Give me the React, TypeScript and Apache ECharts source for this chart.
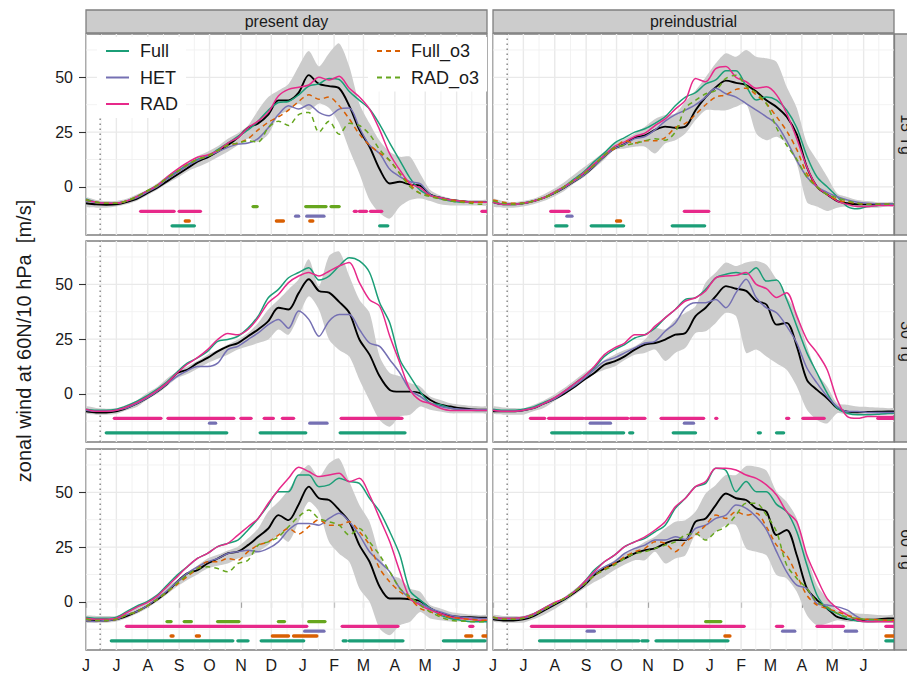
import { useEffect, useRef } from 'react';
import * as echarts from 'echarts';

const FONT = '"Liberation Sans", Arial, Helvetica, sans-serif';

// x positions: days after 1 June 1991
const DAYS = [0, 10, 20, 30, 40, 50, 60, 70, 80, 90, 100, 110, 120, 130, 140, 150, 160, 170, 180, 190, 200, 210, 220, 230, 240, 250, 260, 270, 280, 290, 300, 310, 320, 330, 340, 350, 360, 370, 380, 390, 396];
const MONTH_TICKS = [0, 30, 61, 92, 122, 153, 183, 214, 245, 274, 305, 335, 366];
const MONTH_LABELS = ['J', 'J', 'A', 'S', 'O', 'N', 'D', 'J', 'F', 'M', 'A', 'M', 'J'];
const MINOR_X = [15, 45.5, 76.5, 107, 137.5, 168, 198.5, 229.5, 259.5, 289.5, 320, 350.5, 381];
const Y_TICKS = [0, 25, 50];
const Y_MINOR = [-12.5, 12.5, 37.5, 62.5];
const ERUPTION_DAY = 14;
const COLUMNS = ['present day', 'preindustrial'];
const ROWS = ['15 Tg', '30 Tg', '60 Tg'];
const NAMES = ['Full', 'HET', 'RAD', 'Full_o3', 'RAD_o3'];
const SIG_LEVELS = { RAD_o3: -9, RAD: -11.2, HET: -13.4, Full_o3: -15.6, Full: -17.8 };

// ---- present day, 15 Tg ----
const P1_MEAN = [-7.5, -8, -8.2, -8, -7, -5.5, -3, -0.5, 2.5, 5.5, 8.5, 11.5, 13.5, 16, 19, 22.5, 27, 29, 33, 39.5, 39.5, 43, 51, 47, 46, 45, 37, 26, 18.3, 8, 1.5, 2.3, 1, 0.5, -3.5, -5, -6, -6.5, -7, -7, -7];
const P1_LO = [-9, -9.5, -9.5, -9, -8, -6.5, -4, -1.5, 1.5, 4, 7, 9, 11, 13.5, 16, 19, 22, 20.5, 24, 32.5, 35, 38, 35, 38, 36, 29, 17, 6, -6, -12, -14.5, -9, -6, -5.3, -6.5, -8, -8.5, -8.5, -8.5, -8.5, -8.5];
const P1_HI = [-5, -6, -6.5, -6.5, -5.5, -3.5, -1.5, 1.5, 5, 8, 11, 14, 16, 18.5, 22, 24.5, 28, 35, 41, 44, 47, 55, 62, 55, 61, 65.5, 55, 38, 29, 21, 16, 13.7, 13.7, 6, -1.5, -4, -5.3, -6, -6, -6, -6];
const P1_FULL = [-5.5, -7, -7.5, -7.5, -6.5, -4.5, -2, 0.5, 4, 7, 10, 12.5, 14, 17, 20, 23, 26, 30, 35, 38.5, 39, 42, 46, 47, 49.5, 49, 43.5, 39.5, 35.5, 28.5, 20, 12, 4, -1.5, -4, -5.5, -6.5, -7, -7, -7, -7];
const P1_HET = [-6.5, -7, -7.5, -7.5, -6.5, -5, -2.5, 0, 3.5, 6.5, 9.5, 12, 14, 16, 18, 19.5, 20, 22, 27, 33, 37, 35.5, 37.5, 34, 32.5, 35.5, 36, 27, 19, 15.2, 8, 4.6, 2.3, 1.5, -3.5, -5, -6, -6.5, -7, -7, -7];
const P1_RAD = [-6, -7, -7.5, -7.5, -6.5, -4.5, -2, 0.5, 4.5, 8, 11, 13.5, 14.5, 16.5, 20, 22.5, 27, 30, 34, 41.5, 44.5, 45.5, 46.5, 50, 48.8, 50.5, 45, 41, 35.5, 26, 15, 7.6, 1.5, -0.5, -4, -5, -6, -6.5, -7, -7, -7];
const P1_FULLO3 = [-6, -7, -7.5, -7.5, -6.5, -4.5, -2, 0.5, 4, 7, 10, 12.5, 14, 16.5, 19, 20, 22, 26, 29.5, 32, 35, 39, 42, 40, 41, 37, 31, 24, 19, 15.5, 12, 6, 1, -3, -4, -5.5, -6, -6.5, -7, -7, -7];
const P1_RADO3 = [-6, -7, -7.5, -7.5, -6.5, -4.5, -2, 0.5, 4, 7, 10, 12.5, 14, 16.5, 19, 20, 21, 20.5, 27, 30, 28, 33, 34, 25, 30, 24, 29, 28, 24, 17, 12, 6, 0, -3, -4.5, -5.5, -6.5, -7, -7.5, -8, -8];
const P1_SIG_RADO3 = [[165, 169], [217, 237], [242, 250]];
const P1_SIG_RAD = [[54, 87], [92, 113], [265, 267], [270, 277], [281, 292], [391, 396]];
const P1_SIG_HET = [[207, 210], [218, 235]];
const P1_SIG_FULLO3 = [[98, 102], [188, 195], [221, 224]];
const P1_SIG_FULL = [[85, 107], [290, 298]];

// ---- preindustrial, 15 Tg ----
const P2_MEAN = [-7, -8, -8, -7.5, -6.5, -5, -3, -0.5, 2.5, 5.5, 9.5, 14, 17.5, 19.5, 22.5, 23.5, 26, 27.5, 27, 27.5, 35, 41, 45.5, 48.5, 47.5, 46.5, 43.5, 39.5, 36.5, 32, 24, 9, 0, -3.5, -6.5, -7.5, -8, -8, -8, -8, -8];
const P2_LO = [-9, -9.5, -9.5, -9, -8, -6.5, -4.5, -2, 1.5, 4.5, 8.5, 12.5, 16.8, 17.5, 18.3, 18.3, 15.2, 19.8, 21.3, 24.4, 30.5, 35, 35, 35, 36.6, 38, 24.4, 21.3, 22.9, 19.8, 10.7, -7, -9, -11, -9.5, -9, -9.5, -9.5, -9.5, -9, -9];
const P2_HI = [-5.5, -6.5, -7, -6.5, -5.5, -3.5, -1, 2, 5.5, 9, 12.5, 16, 19.8, 22, 24.4, 27.4, 31, 32.8, 33.5, 39, 44, 50, 56.4, 61, 59.4, 62.5, 59.4, 58.7, 57, 45.7, 36, 19.8, 12.2, 4.6, -3, -4.6, -6, -6.5, -7, -7, -7];
const P2_FULL = [-6.5, -8, -8, -7.5, -6.5, -5, -2.5, 0, 3.5, 7, 11.5, 15.5, 20, 22.5, 25, 26.5, 29, 32, 37, 41, 43, 47, 48.8, 53, 53, 46, 39.6, 41, 39.6, 35, 27, 14, 4.5, 0, -4.5, -9, -10, -9, -8.5, -8, -8];
const P2_HET = [-7, -8, -8, -7.5, -6.5, -5, -3, -0.5, 2.5, 5.5, 9.5, 14, 17.5, 19.5, 22, 23, 26, 30, 33, 35, 37.5, 41, 45, 42.5, 41, 38, 35, 32, 28.5, 21, 12, 4.5, 0, -2.5, -4.5, -6, -7, -7.5, -7.8, -8, -8];
const P2_RAD = [-7, -8, -8, -7.5, -6.5, -5, -2.5, 0, 3, 6.5, 10.5, 14.5, 18.5, 20.5, 23, 24.5, 28, 31, 35.5, 39.6, 49.5, 48, 54, 55, 50, 48, 45, 45.7, 42, 33.5, 22, 9, 0, -3.5, -6.5, -8, -9, -9, -8.5, -8.5, -8.5];
const P2_FULLO3 = [-6, -7, -7.5, -7.5, -6.5, -5, -3, 0, 3, 6, 10, 14.5, 17.5, 21, 20, 21, 21, 22.5, 27, 29, 33, 37.5, 41, 42, 44.5, 45, 42, 38, 32, 25.5, 17, 6, 0, -3.5, -6, -7, -7.5, -8, -8, -8, -8];
const P2_RADO3 = [-6.5, -7.5, -8, -7.5, -6.5, -5, -3, 0, 3, 6, 10, 14.5, 18, 19, 19.8, 21, 22, 21.3, 25, 36, 39.5, 42.5, 44, 49.5, 51, 46, 43, 38, 27, 19, 12.5, 4.5, 0, -3.5, -5, -6.5, -7.5, -8, -8, -8, -8];
const P2_SIG_RADO3: number[][] = [];
const P2_SIG_RAD = [[57, 75], [189, 213]];
const P2_SIG_HET = [[73, 78]];
const P2_SIG_FULLO3 = [[122, 126]];
const P2_SIG_FULL = [[62, 73], [97, 129], [177, 209]];

// ---- present day, 30 Tg ----
const P3_MEAN = [-8, -8.5, -8.5, -8, -6.5, -4.5, -2, 1, 4.5, 9.5, 11, 14, 16.4, 19.4, 21.7, 23.2, 26.3, 29.4, 33.2, 39.3, 38.5, 46, 52.3, 47, 46.2, 42, 37, 24.8, 17.9, 8, 1.8, 1, 1, 0.3, -2.8, -5, -5.8, -6.6, -7, -7.3, -7.3];
const P3_LO = [-8.9, -9.5, -9.5, -9.2, -7.5, -6, -2.8, 0, 3.5, 7.2, 9, 11.5, 14, 16, 17.9, 20.2, 21.7, 23.2, 24.8, 29.4, 27, 35.5, 44.6, 38.5, 24.8, 20, 17, 6.4, -3, -11.9, -15, -10.4, -9.6, -5.8, -7.3, -8.1, -8.9, -8.9, -8.9, -8.9, -8.9];
const P3_HI = [-5.8, -6.5, -6.8, -6.6, -5, -3, 0.3, 3, 7, 10.2, 12.5, 15, 17.9, 20, 22.5, 24.8, 27.8, 32.4, 38.5, 43, 47.7, 52.3, 61.5, 49.2, 63, 65, 53.8, 43, 37, 17, 9.5, 8, 4.9, 3.4, -1.2, -2.8, -4.3, -5, -5.5, -5.8, -5.8];
const P3_FULL = [-7, -7.5, -7.5, -7, -5.5, -3.5, -1, 2, 5.5, 10, 14, 16.4, 19.4, 24, 24.8, 26.3, 30, 35.5, 43.9, 47.7, 53, 55.4, 57.6, 52, 53.8, 58.4, 62.2, 60.7, 55.4, 41.6, 32.4, 15.6, 8, 1, -4.3, -5, -6.6, -7.3, -7.5, -7.6, -7.6];
const P3_HET = [-7.5, -8, -8, -7.5, -6.5, -4.5, -2, 1, 4.5, 8, 10.5, 12.5, 12.5, 14, 20.2, 21.7, 24.8, 27.8, 31.6, 34, 30, 37.8, 34, 26.3, 33.2, 36.2, 36.2, 29.4, 23.2, 21.7, 15.6, 9.5, 1.8, -1.2, -4.3, -5.8, -6.6, -7, -7.2, -7.3, -7.3];
const P3_RAD = [-7, -8, -8, -7.5, -6, -4, -1.5, 1.5, 5, 9.5, 13.5, 16.5, 20.2, 24.8, 27.5, 27, 29.4, 34.7, 41.6, 45.4, 50.8, 53.8, 55.4, 53.8, 56, 58.4, 60, 50.8, 43, 40, 26.3, 14, 1.8, -3, -4.5, -6.6, -7.6, -7.6, -7.6, -7.6, -7.6];
const P3_SIG_RAD = [[28, 74], [81, 146], [153, 163], [176, 185], [194, 205], [252, 312]];
const P3_SIG_HET = [[122, 128], [221, 238]];
const P3_SIG_FULL = [[20, 139], [172, 217], [251, 315]];

// ---- preindustrial, 30 Tg ----
const P4_MEAN = [-8, -8, -8, -7.5, -6.5, -4.5, -2.5, 0, 3, 6.5, 9.5, 13.3, 14.8, 17.1, 20.2, 22.5, 23.2, 24.8, 27, 27.8, 35.5, 39.3, 44.6, 49.2, 48, 47, 42.4, 40.8, 31.6, 32.4, 21.7, 6.4, 1.8, -2, -6.6, -8.1, -8.4, -8.3, -8.2, -8, -8];
const P4_LO = [-9, -9.5, -9.5, -9.5, -8, -6.5, -3.5, -0.5, 3, 6.4, 9, 11, 12.5, 15.5, 17.9, 18.7, 20.2, 15, 18.7, 21, 27.8, 28.6, 32.4, 37, 35.5, 18.7, 20.2, 17.1, 14, 11, 3.4, -7.3, -11.9, -13.5, -8.9, -9.6, -9.6, -9.6, -9.6, -9.6, -9.6];
const P4_HI = [-5.8, -6.3, -6.5, -6.6, -5, -3, -0.5, 2.5, 6, 9.5, 12.5, 15.5, 17.9, 20, 21.7, 24.8, 30, 29.4, 34, 37, 40, 50.8, 55.4, 60, 58.4, 60, 60.7, 59, 52.3, 44.6, 37, 21.7, 9.5, 3.4, -4.3, -5, -5.8, -6, -6.3, -6.6, -6.6];
const P4_FULL = [-7, -7.5, -7.5, -7, -6, -4, -2, 1, 4.5, 8, 11.8, 17.1, 20.2, 22.5, 25.5, 27, 30, 34.7, 38.5, 43.1, 43.9, 47.7, 53, 54.6, 55.4, 54.6, 57.6, 51.5, 52, 43.1, 30.9, 18.7, 9.5, 0.3, -6.6, -8.9, -9.6, -9.6, -9.3, -9, -8.9];
const P4_HET = [-7.5, -8, -8, -7.5, -6.5, -4.5, -2.5, 0.5, 3.5, 7, 11, 14.8, 16.4, 18.7, 21, 23.2, 24, 28.6, 32.4, 39.3, 41.6, 41.6, 43.1, 39.3, 46.2, 52.3, 43.9, 39.3, 37, 30.9, 23.2, 11.8, 4.9, -1.2, -5.8, -8.1, -8.1, -8.5, -8.5, -8.5, -8.5];
const P4_RAD = [-7.5, -8, -8, -7.5, -6.5, -4.5, -2, 1, 4.5, 8, 12.5, 17.9, 21, 23.2, 27, 27, 30.9, 34.7, 38.5, 42.4, 43.9, 47, 53, 53.8, 54.1, 55.4, 50, 48, 44, 46.2, 35.5, 24.8, 18.7, 11, -2.8, -10.4, -11.2, -10.4, -10.4, -10.4, -10.4];
const P4_SIG_RAD = [[37, 51], [55, 89], [91, 133], [136, 150], [166, 208], [220, 221], [290, 292], [306, 327], [380, 395]];
const P4_SIG_HET = [[96, 116], [189, 198]];
const P4_SIG_FULL = [[58, 87], [89, 129], [135, 138], [178, 200], [262, 264], [280, 287]];

// ---- present day, 60 Tg ----
const P5_MEAN = [-8.5, -8.5, -8.5, -8, -6.5, -4.5, -2, 1, 4.5, 9.1, 13, 14.5, 17.5, 19.8, 22.1, 22.9, 25.9, 29.7, 33.5, 39.6, 37.3, 44.5, 52.6, 47.3, 46.5, 42, 36.6, 25.9, 18.3, 6.9, 1.5, 1.5, 1.2, 0.3, -3, -5.3, -6.4, -6.9, -7, -7.3, -7.3];
const P5_LO = [-9.5, -9.5, -9.5, -9, -7.5, -5.5, -3, 0, 3.5, 7, 10, 12.5, 15.2, 16.5, 17.5, 19.8, 20.6, 22.9, 25.9, 30.5, 27.4, 36.6, 45.7, 41.2, 27.4, 22, 18.3, 6.1, 0, -12.2, -15.2, -10.7, -9.1, -4.6, -7.6, -8.4, -9, -9, -9.1, -9.1, -9.1];
const P5_HI = [-6.5, -6.5, -6.5, -6.5, -4.5, -2, 0.5, 3.5, 7, 10, 13.5, 16.5, 19.8, 21.5, 23.5, 25.2, 29, 33.5, 41.2, 45.7, 51.1, 58, 62.5, 57, 63.3, 65.5, 54.9, 44.2, 36.6, 21.3, 12.2, 10.7, 6.1, 4.6, -1.5, -3, -4.6, -5.3, -5.8, -6.1, -6.1];
const P5_FULL = [-7, -7.5, -7.5, -7, -4.5, -2, 0, 3, 7.6, 12.2, 16, 19.8, 22.1, 25.2, 26.7, 28.2, 32.8, 38.1, 44.2, 50.3, 50.3, 57.9, 57.9, 52.6, 53.4, 56.4, 54.9, 54.1, 47.3, 41.2, 32, 21.3, 5, 0.8, -3, -6.1, -7.6, -8.4, -9.1, -9.1, -9.1];
const P5_HET = [-8.5, -9, -8.5, -8, -6, -4.5, -2, 1.5, 5, 9.1, 13, 16, 18.3, 19.8, 22.1, 22.9, 23.6, 22.9, 24.4, 27.4, 32.8, 35.8, 35.8, 35, 38.1, 40.4, 36.6, 30.5, 22.9, 18.3, 13.7, 6.1, 1.5, -0.8, -3, -4.6, -6.1, -6.9, -7.3, -7.6, -7.6];
const P5_RAD = [-7.5, -8, -8, -7.5, -5, -2.5, -0.5, 2.5, 6.9, 11.4, 16, 19.8, 22.1, 25.2, 26.7, 30.5, 34.3, 38.1, 45, 51.1, 56.4, 61.5, 59.5, 57.2, 57.9, 58.7, 54.9, 56.4, 48.8, 38.1, 27.4, 13.7, 1.5, -1.5, -3.8, -5.3, -6.9, -7.6, -8, -8.4, -8.4];
const P5_FULLO3 = [-8, -8.5, -8.5, -8, -6, -4.5, -2, 1, 4.5, 8, 11.5, 15.2, 18.3, 18.3, 19.8, 19, 22.9, 25.9, 27.4, 30.5, 33.5, 31, 34.3, 37.5, 35, 35, 36.6, 32, 25.9, 15.2, 9.1, 4.6, 1.5, -3, -4.6, -6.1, -7, -7.6, -8, -8.4, -8.4];
const P5_RADO3 = [-8, -8.5, -8.5, -8, -6, -4.5, -2, 1, 4.5, 8.5, 12.2, 15.2, 16, 15.2, 13.7, 17.5, 19, 25.9, 27.4, 29.7, 34.3, 38.9, 41.9, 38, 36.6, 35, 30.5, 33.5, 27.4, 21.3, 13.7, 6.1, 2.3, -1.5, -4.6, -6.9, -8.4, -8.8, -9, -9.1, -9.1];
const P5_SIG_RADO3 = [[80, 84], [97, 104], [130, 151], [190, 196], [220, 236]];
const P5_SIG_RAD = [[40, 218], [253, 308], [379, 382]];
const P5_SIG_HET = [[216, 235]];
const P5_SIG_FULLO3 = [[84, 86], [109, 112], [184, 200], [205, 228], [375, 381], [392, 396]];
const P5_SIG_FULL = [[25, 145], [150, 160], [173, 215], [254, 257], [260, 313], [353, 394]];

// ---- preindustrial, 60 Tg ----
const P6_MEAN = [-8, -8.5, -8.5, -8, -6.5, -4, -1.5, 1, 4, 7.5, 12.2, 15.2, 17.5, 19.8, 22.1, 23.6, 24.4, 26.7, 28.2, 28.2, 36.6, 38.1, 44.2, 49.5, 47.3, 46.5, 42.7, 41.2, 30.5, 32.8, 21.3, 6.1, 0.8, -3, -6.9, -7.9, -8.4, -8.2, -8, -7.6, -7.6];
const P6_LO = [-9, -9.5, -9.5, -9.5, -8, -6, -3.5, -0.5, 3, 6.1, 9, 11.5, 14.5, 17, 19, 19, 22.9, 17.5, 19.8, 21.3, 30.5, 28.2, 32, 35, 35, 24.4, 22.9, 21.3, 12.2, 10.7, 4.6, -6.1, -10.7, -9.9, -8.4, -9.1, -9, -9, -9, -9, -9];
const P6_HI = [-6, -6.5, -6.5, -6.5, -5, -3, -1, 2, 5.5, 9, 12.5, 16, 19, 22, 24.4, 27.4, 29.7, 33.5, 36.6, 37.3, 41.2, 49.5, 53.4, 57.9, 57.9, 62, 61.7, 60, 50.3, 45.7, 38.1, 21.3, 7.6, 1.5, -3.8, -4.6, -5.3, -5.6, -6, -6.1, -6.1];
const P6_FULL = [-7, -7.5, -7.5, -7, -5.5, -3, -0.5, 1.2, 4.6, 9.1, 14.5, 18.3, 21.3, 25.2, 27.4, 29, 32, 35, 42.7, 47.3, 52.6, 54.1, 61, 60, 50.3, 54.9, 50.3, 50.3, 44.5, 41.2, 32, 16.8, 3, -3, -5.3, -7.6, -8.8, -9.1, -9, -9, -9];
const P6_HET = [-7.5, -8, -8, -7.5, -6, -3.5, -1, 1.5, 4.5, 8, 13, 16, 18.3, 22.1, 24.4, 25.9, 28.2, 28.2, 29.7, 28.5, 33.5, 35, 38.1, 39.6, 44.2, 42.7, 38.9, 33, 22.9, 13.7, 7.6, 6.1, -0.8, -1.5, -2.3, -3.8, -6.9, -8.4, -8.4, -8.4, -8.4];
const P6_RAD = [-7, -7.5, -7.5, -7, -5.5, -3, -0.5, 1.5, 4.5, 9, 13.7, 18.3, 21.3, 25.2, 27.4, 29.7, 32.8, 36.6, 43.4, 47.3, 52.6, 54.9, 61, 61, 60.2, 57.9, 56.4, 53.4, 48.8, 41.2, 36.6, 21.3, 10.7, 1.5, -3, -6.1, -8.4, -9.1, -9.1, -9.1, -9.1];
const P6_FULLO3 = [-7, -8, -8, -7.5, -6, -3.5, -1, 1.5, 4.5, 8, 12, 15, 17.5, 20.6, 22.9, 24.4, 27.4, 26.7, 22.9, 27.4, 30.5, 35, 39.6, 38.1, 41.2, 39.6, 40.4, 34.3, 25.9, 21.3, 12.2, 3, -1.5, -3, -4.6, -6.1, -7.6, -8, -8.2, -8.4, -8.4];
const P6_RADO3 = [-7, -8, -8, -7.5, -6, -3.5, -1, 1.5, 4.5, 8, 12, 14.5, 16.8, 19.8, 22.1, 22.9, 24.4, 25.9, 27.4, 30.5, 31.2, 28.2, 32, 34.3, 39.6, 45, 45, 39.6, 32, 16.8, 10.7, 6.1, 0, -2.3, -5.3, -6.9, -7.6, -8, -8.2, -8.4, -8.4];
const P6_SIG_RADO3 = [[210, 225]];
const P6_SIG_RAD = [[38, 248], [280, 286], [320, 346], [388, 396]];
const P6_SIG_HET = [[93, 100], [286, 298], [348, 359]];
const P6_SIG_FULLO3 = [[229, 234], [388, 396]];
const P6_SIG_FULL = [[46, 144], [147, 153], [161, 232], [388, 396]];

const COLORS: Record<string, string> = { Full: '#1B9E77', HET: '#7570B3', RAD: '#E7298A', Full_o3: '#D95F02', RAD_o3: '#66A61E' };

const PANELS = [
  { row: 0, col: 0, mean: P1_MEAN, lo: P1_LO, hi: P1_HI,
    lines: { Full: P1_FULL, HET: P1_HET, RAD: P1_RAD, Full_o3: P1_FULLO3, RAD_o3: P1_RADO3 },
    sig: { RAD_o3: P1_SIG_RADO3, RAD: P1_SIG_RAD, HET: P1_SIG_HET, Full_o3: P1_SIG_FULLO3, Full: P1_SIG_FULL } },
  { row: 0, col: 1, mean: P2_MEAN, lo: P2_LO, hi: P2_HI,
    lines: { Full: P2_FULL, HET: P2_HET, RAD: P2_RAD, Full_o3: P2_FULLO3, RAD_o3: P2_RADO3 },
    sig: { RAD_o3: P2_SIG_RADO3, RAD: P2_SIG_RAD, HET: P2_SIG_HET, Full_o3: P2_SIG_FULLO3, Full: P2_SIG_FULL } },
  { row: 1, col: 0, mean: P3_MEAN, lo: P3_LO, hi: P3_HI,
    lines: { Full: P3_FULL, HET: P3_HET, RAD: P3_RAD },
    sig: { RAD: P3_SIG_RAD, HET: P3_SIG_HET, Full: P3_SIG_FULL } },
  { row: 1, col: 1, mean: P4_MEAN, lo: P4_LO, hi: P4_HI,
    lines: { Full: P4_FULL, HET: P4_HET, RAD: P4_RAD },
    sig: { RAD: P4_SIG_RAD, HET: P4_SIG_HET, Full: P4_SIG_FULL } },
  { row: 2, col: 0, mean: P5_MEAN, lo: P5_LO, hi: P5_HI,
    lines: { Full: P5_FULL, HET: P5_HET, RAD: P5_RAD, Full_o3: P5_FULLO3, RAD_o3: P5_RADO3 },
    sig: { RAD_o3: P5_SIG_RADO3, RAD: P5_SIG_RAD, HET: P5_SIG_HET, Full_o3: P5_SIG_FULLO3, Full: P5_SIG_FULL } },
  { row: 2, col: 1, mean: P6_MEAN, lo: P6_LO, hi: P6_HI,
    lines: { Full: P6_FULL, HET: P6_HET, RAD: P6_RAD, Full_o3: P6_FULLO3, RAD_o3: P6_RADO3 },
    sig: { RAD_o3: P6_SIG_RADO3, RAD: P6_SIG_RAD, HET: P6_SIG_HET, Full_o3: P6_SIG_FULLO3, Full: P6_SIG_FULL } },
];

// layout (pixels)
const COL_X = [86, 493];
const ROW_Y = [34, 241, 449];
const W = 401;
const H = 201;
const X_MIN = 0;
const X_MAX = 396;
const Y_MIN = -22;
const Y_MAX = 69.8;

function buildOption() {
  const grids: any[] = [];
  const xAxes: any[] = [];
  const yAxes: any[] = [];
  const series: any[] = [];

  PANELS.forEach((p, gi) => {
    const isBottom = p.row === 2;
    const isLeft = p.col === 0;
    grids.push({
      left: COL_X[p.col], top: ROW_Y[p.row], width: W, height: H,
      show: true, backgroundColor: '#ffffff', borderColor: '#7f7f7f', borderWidth: 1.3,
      containLabel: false, outerBoundsMode: 'none',
    });
    xAxes.push({
      gridIndex: gi, type: 'value', min: X_MIN, max: X_MAX,
      splitLine: { show: false }, axisLine: { show: false },
      axisTick: { show: isBottom, customValues: MONTH_TICKS, length: 6, lineStyle: { color: '#333', width: 1.1 } },
      axisLabel: {
        show: isBottom, customValues: MONTH_TICKS, margin: 7, fontSize: 16, color: '#1a1a1a', fontFamily: FONT,
        formatter: (v: number) => { const i = MONTH_TICKS.indexOf(v); return i >= 0 ? MONTH_LABELS[i] : ''; },
      },
    });
    yAxes.push({
      gridIndex: gi, type: 'value', min: Y_MIN, max: Y_MAX,
      splitLine: { show: false }, axisLine: { show: false },
      axisTick: { show: isLeft, customValues: Y_TICKS, length: 7, lineStyle: { color: '#333', width: 1.1 } },
      axisLabel: { show: isLeft, customValues: Y_TICKS, margin: 13, fontSize: 16, color: '#1a1a1a', fontFamily: FONT },
    });

    const common = { xAxisIndex: gi, yAxisIndex: gi };

    // vertical grid lines
    series.push({
      ...common, type: 'custom', silent: true, clip: true, z: 1,
      data: [...MONTH_TICKS.map((v) => [v, 1]), ...MINOR_X.map((v) => [v, 0])],
      encode: { x: 0, y: 1 },
      renderItem: (_params: any, api: any) => {
        const x = api.value(0);
        const k = api.value(1);
        const a = api.coord([x, Y_MIN]);
        const b = api.coord([x, Y_MAX]);
        return {
          type: 'line', shape: { x1: a[0], y1: a[1], x2: b[0], y2: b[1] },
          style: k === 1 ? { stroke: '#e9e9e9', lineWidth: 1.4 } : { stroke: '#f1f1f1', lineWidth: 0.9 },
        };
      },
    });
    // horizontal grid lines
    series.push({
      ...common, type: 'custom', silent: true, clip: true, z: 1,
      data: [...Y_TICKS.map((v) => [1, v]), ...Y_MINOR.map((v) => [0, v])],
      encode: { x: 0, y: 1 },
      renderItem: (_params: any, api: any) => {
        const k = api.value(0);
        const y = api.value(1);
        const a = api.coord([X_MIN, y]);
        const b = api.coord([X_MAX, y]);
        return {
          type: 'line', shape: { x1: a[0], y1: a[1], x2: b[0], y2: b[1] },
          style: k === 1 ? { stroke: '#e9e9e9', lineWidth: 1.4 } : { stroke: '#f1f1f1', lineWidth: 0.9 },
        };
      },
    });
    // spread band
    series.push({
      ...common, type: 'custom', name: 'spread', silent: true, clip: true, z: 2,
      data: DAYS.map((d, i) => [d, p.lo[i], p.hi[i]]),
      encode: { x: 0, y: [1, 2] },
      renderItem: (params: any, api: any) => {
        if (params.dataIndex !== 0) return null;
        const upper = DAYS.map((d, i) => api.coord([d, p.hi[i]]));
        const lower = DAYS.map((d, i) => api.coord([d, p.lo[i]])).reverse();
        return { type: 'polygon', shape: { points: upper.concat(lower), smooth: 0.25 }, style: { fill: '#cccccc' } };
      },
    });
    // eruption date marker
    series.push({
      ...common, type: 'custom', silent: true, clip: true, z: 2,
      data: [[ERUPTION_DAY, 0]],
      encode: { x: 0, y: 1 },
      renderItem: (_params: any, api: any) => {
        const a = api.coord([api.value(0), Y_MIN]);
        const b = api.coord([api.value(0), Y_MAX]);
        return { type: 'line', shape: { x1: a[0], y1: a[1], x2: b[0], y2: b[1] }, style: { stroke: '#8a8a8a', lineWidth: 1.5, lineDash: [1.5, 3.5] } };
      },
    });
    // ensemble mean
    series.push({
      ...common, type: 'line', name: 'mean', silent: true, z: 3,
      data: DAYS.map((d, i) => [d, p.mean[i]]),
      symbol: 'none', showSymbol: false, smooth: 0.3,
      color: '#000', lineStyle: { color: '#000', width: 1.9 },
    });
    // experiments
    Object.entries(p.lines).forEach(([name, vals]) => {
      const dashed = name.endsWith('_o3');
      series.push({
        ...common, type: 'line', name, silent: true, z: 3,
        data: DAYS.map((d, i) => [d, (vals as number[])[i]]),
        symbol: 'none', showSymbol: false, smooth: 0.3,
        color: COLORS[name],
        lineStyle: { color: COLORS[name], width: 1.5, type: dashed ? [5, 4] : 'solid' },
      });
    });
    // significance bars
    const sigData: any[] = [];
    Object.entries(p.sig).forEach(([name, segs]) => {
      (segs as number[][]).forEach(([s, e]) => sigData.push([s, e, (SIG_LEVELS as any)[name], NAMES.indexOf(name)]));
    });
    series.push({
      ...common, type: 'custom', silent: true, clip: true, z: 4,
      data: sigData,
      encode: { x: [0, 1], y: 2 },
      renderItem: (_params: any, api: any) => {
        const a = api.coord([api.value(0), api.value(2)]);
        const b = api.coord([api.value(1), api.value(2)]);
        return {
          type: 'line', shape: { x1: a[0], y1: a[1], x2: b[0], y2: b[1] },
          style: { stroke: COLORS[NAMES[api.value(3)]], lineWidth: 3.3, lineCap: 'round' },
        };
      },
    });
  });

  const textStyle = (size: number) => ({
    fill: '#1a1a1a', font: `${size}px ${FONT}`,
    align: 'center', verticalAlign: 'middle', textAlign: 'center', textVerticalAlign: 'middle',
  });

  const graphic: any[] = [];
  COLUMNS.forEach((label, c) => {
    graphic.push({ type: 'rect', shape: { x: COL_X[c], y: 10, width: W, height: 23 }, style: { fill: '#cccccc', stroke: '#7f7f7f', lineWidth: 1.3 } });
    graphic.push({ type: 'text', x: COL_X[c] + W / 2, y: 21.5, style: { text: label, ...textStyle(16) } });
  });
  ROWS.forEach((label, r) => {
    graphic.push({ type: 'rect', shape: { x: 894.5, y: ROW_Y[r], width: 24, height: H }, style: { fill: '#cccccc', stroke: '#7f7f7f', lineWidth: 1.3 } });
    graphic.push({ type: 'text', x: 906.5, y: ROW_Y[r] + H / 2, rotation: -Math.PI / 2, style: { text: label, ...textStyle(16) } });
  });
  graphic.push({ type: 'text', x: 23.5, y: 341, rotation: Math.PI / 2, style: { text: 'zonal wind at 60N/10 hPa  [m/s]', ...textStyle(20) } });

  const legendBase = {
    orient: 'vertical', top: 37, itemWidth: 23, itemHeight: 14, itemGap: 6.5,
    padding: [4, 8, 4, 8], backgroundColor: '#ffffff', selectedMode: false,
    itemStyle: { opacity: 0, borderWidth: 0 },
    textStyle: { fontSize: 18, color: '#1a1a1a', fontFamily: FONT, lineHeight: 20, padding: [0, 0, 0, 6] },
  };

  return {
    animation: false,
    backgroundColor: '#ffffff',
    textStyle: { fontFamily: FONT },
    grid: grids,
    xAxis: xAxes,
    yAxis: yAxes,
    legend: [
      { ...legendBase, left: 97, data: ['Full', 'HET', 'RAD'] },
      { ...legendBase, left: 368, data: ['Full_o3', 'RAD_o3'] },
    ],
    graphic,
    series,
  };
}

export default function App() {
  const ref = useRef<HTMLDivElement>(null);
  useEffect(() => {
    if (!ref.current) return;
    const chart = echarts.init(ref.current, null, { renderer: 'svg' });
    chart.setOption(buildOption() as any);
    return () => chart.dispose();
  }, []);
  return <div ref={ref} style={{ position: 'fixed', left: 0, top: 0, width: 907, height: 673, background: '#fff' }} />;
}
